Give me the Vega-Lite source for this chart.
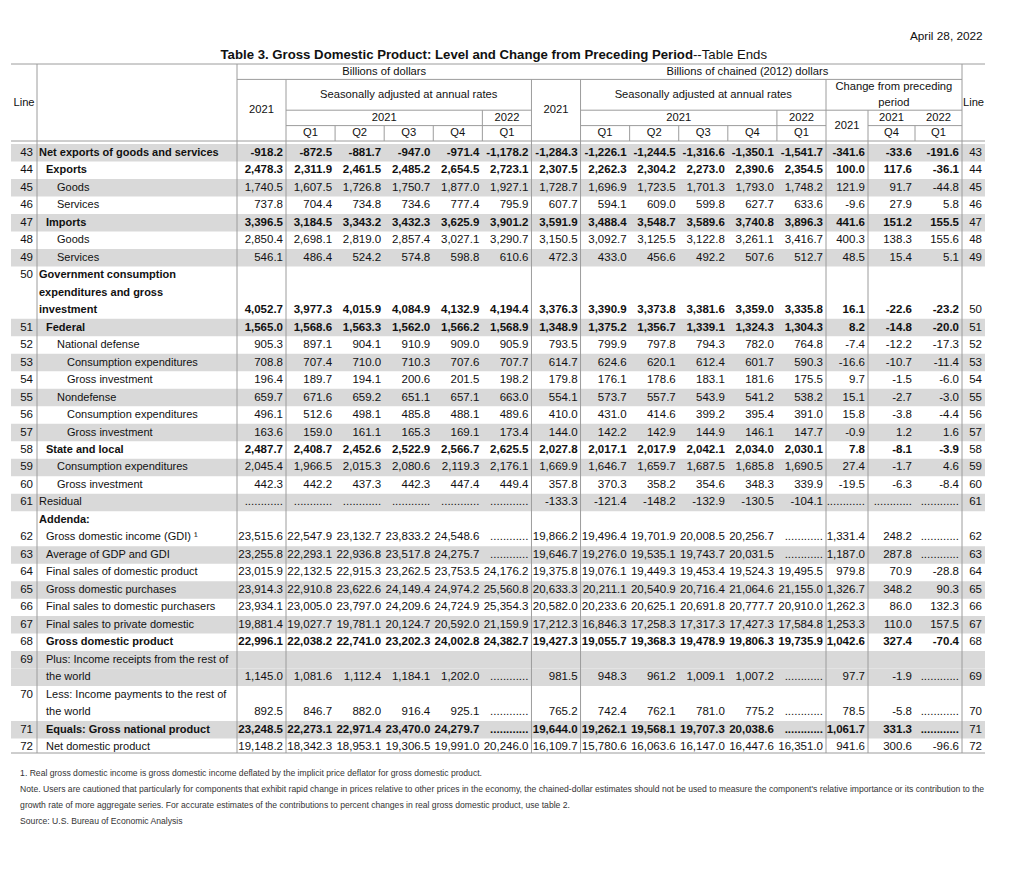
{
"$schema": "https://vega.github.io/schema/vega-lite/v6.json",
"width": 1024, "height": 873, "padding": 0, "autosize": {"type": "none"},
"background": "#ffffff",
"config": {"view": {"stroke": null}, "axis": {"disable": true}, "text": {"font": "Liberation Sans", "fontSize": 11.5, "color": "#111111"}},
"datasets": {
"labels": [
{"r":"43","ln":"43","rn":"43","t":"Net exports of goods and services","lv":0},
{"r":"44","ln":"44","rn":"44","t":"Exports","lv":1},
{"r":"45","ln":"45","rn":"45","t":"Goods","lv":2},
{"r":"46","ln":"46","rn":"46","t":"Services","lv":2},
{"r":"47","ln":"47","rn":"47","t":"Imports","lv":1},
{"r":"48","ln":"48","rn":"48","t":"Goods","lv":2},
{"r":"49","ln":"49","rn":"49","t":"Services","lv":2},
{"r":"50a","ln":"50","t":"Government consumption","lv":0},
{"r":"50b","t":"expenditures and gross","lv":0},
{"r":"50","rn":"50","t":"investment","lv":0},
{"r":"51","ln":"51","rn":"51","t":"Federal","lv":1},
{"r":"52","ln":"52","rn":"52","t":"National defense","lv":2},
{"r":"53","ln":"53","rn":"53","t":"Consumption expenditures","lv":3},
{"r":"54","ln":"54","rn":"54","t":"Gross investment","lv":3},
{"r":"55","ln":"55","rn":"55","t":"Nondefense","lv":2},
{"r":"56","ln":"56","rn":"56","t":"Consumption expenditures","lv":3},
{"r":"57","ln":"57","rn":"57","t":"Gross investment","lv":3},
{"r":"58","ln":"58","rn":"58","t":"State and local","lv":1},
{"r":"59","ln":"59","rn":"59","t":"Consumption expenditures","lv":2},
{"r":"60","ln":"60","rn":"60","t":"Gross investment","lv":2},
{"r":"61","ln":"61","rn":"61","t":"Residual","lv":0},
{"r":"Add","t":"Addenda:","lv":0},
{"r":"62","ln":"62","rn":"62","t":"Gross domestic income (GDI) ¹","lv":1},
{"r":"63","ln":"63","rn":"63","t":"Average of GDP and GDI","lv":1},
{"r":"64","ln":"64","rn":"64","t":"Final sales of domestic product","lv":1},
{"r":"65","ln":"65","rn":"65","t":"Gross domestic purchases","lv":1},
{"r":"66","ln":"66","rn":"66","t":"Final sales to domestic purchasers","lv":1},
{"r":"67","ln":"67","rn":"67","t":"Final sales to private domestic","lv":1},
{"r":"68","ln":"68","rn":"68","t":"Gross domestic product","lv":1},
{"r":"69a","ln":"69","t":"Plus: Income receipts from the rest of","lv":1},
{"r":"69","rn":"69","t":"\u00a0\u00a0the world","lv":1},
{"r":"70a","ln":"70","t":"Less: Income payments to the rest of","lv":1},
{"r":"70","rn":"70","t":"\u00a0\u00a0the world","lv":1},
{"r":"71","ln":"71","rn":"71","t":"Equals: Gross national product","lv":1},
{"r":"72","ln":"72","rn":"72","t":"Net domestic product","lv":1}
],
"cells": [
{"r":"43","2":"-918.2","3":"-872.5","4":"-881.7","5":"-947.0","6":"-971.4","7":"-1,178.2","8":"-1,284.3","9":"-1,226.1","10":"-1,244.5","11":"-1,316.6","12":"-1,350.1","13":"-1,541.7","14":"-341.6","15":"-33.6","16":"-191.6"},
{"r":"44","2":"2,478.3","3":"2,311.9","4":"2,461.5","5":"2,485.2","6":"2,654.5","7":"2,723.1","8":"2,307.5","9":"2,262.3","10":"2,304.2","11":"2,273.0","12":"2,390.6","13":"2,354.5","14":"100.0","15":"117.6","16":"-36.1"},
{"r":"45","2":"1,740.5","3":"1,607.5","4":"1,726.8","5":"1,750.7","6":"1,877.0","7":"1,927.1","8":"1,728.7","9":"1,696.9","10":"1,723.5","11":"1,701.3","12":"1,793.0","13":"1,748.2","14":"121.9","15":"91.7","16":"-44.8"},
{"r":"46","2":"737.8","3":"704.4","4":"734.8","5":"734.6","6":"777.4","7":"795.9","8":"607.7","9":"594.1","10":"609.0","11":"599.8","12":"627.7","13":"633.6","14":"-9.6","15":"27.9","16":"5.8"},
{"r":"47","2":"3,396.5","3":"3,184.5","4":"3,343.2","5":"3,432.3","6":"3,625.9","7":"3,901.2","8":"3,591.9","9":"3,488.4","10":"3,548.7","11":"3,589.6","12":"3,740.8","13":"3,896.3","14":"441.6","15":"151.2","16":"155.5"},
{"r":"48","2":"2,850.4","3":"2,698.1","4":"2,819.0","5":"2,857.4","6":"3,027.1","7":"3,290.7","8":"3,150.5","9":"3,092.7","10":"3,125.5","11":"3,122.8","12":"3,261.1","13":"3,416.7","14":"400.3","15":"138.3","16":"155.6"},
{"r":"49","2":"546.1","3":"486.4","4":"524.2","5":"574.8","6":"598.8","7":"610.6","8":"472.3","9":"433.0","10":"456.6","11":"492.2","12":"507.6","13":"512.7","14":"48.5","15":"15.4","16":"5.1"},
{"r":"50","2":"4,052.7","3":"3,977.3","4":"4,015.9","5":"4,084.9","6":"4,132.9","7":"4,194.4","8":"3,376.3","9":"3,390.9","10":"3,373.8","11":"3,381.6","12":"3,359.0","13":"3,335.8","14":"16.1","15":"-22.6","16":"-23.2"},
{"r":"51","2":"1,565.0","3":"1,568.6","4":"1,563.3","5":"1,562.0","6":"1,566.2","7":"1,568.9","8":"1,348.9","9":"1,375.2","10":"1,356.7","11":"1,339.1","12":"1,324.3","13":"1,304.3","14":"8.2","15":"-14.8","16":"-20.0"},
{"r":"52","2":"905.3","3":"897.1","4":"904.1","5":"910.9","6":"909.0","7":"905.9","8":"793.5","9":"799.9","10":"797.8","11":"794.3","12":"782.0","13":"764.8","14":"-7.4","15":"-12.2","16":"-17.3"},
{"r":"53","2":"708.8","3":"707.4","4":"710.0","5":"710.3","6":"707.6","7":"707.7","8":"614.7","9":"624.6","10":"620.1","11":"612.4","12":"601.7","13":"590.3","14":"-16.6","15":"-10.7","16":"-11.4"},
{"r":"54","2":"196.4","3":"189.7","4":"194.1","5":"200.6","6":"201.5","7":"198.2","8":"179.8","9":"176.1","10":"178.6","11":"183.1","12":"181.6","13":"175.5","14":"9.7","15":"-1.5","16":"-6.0"},
{"r":"55","2":"659.7","3":"671.6","4":"659.2","5":"651.1","6":"657.1","7":"663.0","8":"554.1","9":"573.7","10":"557.7","11":"543.9","12":"541.2","13":"538.2","14":"15.1","15":"-2.7","16":"-3.0"},
{"r":"56","2":"496.1","3":"512.6","4":"498.1","5":"485.8","6":"488.1","7":"489.6","8":"410.0","9":"431.0","10":"414.6","11":"399.2","12":"395.4","13":"391.0","14":"15.8","15":"-3.8","16":"-4.4"},
{"r":"57","2":"163.6","3":"159.0","4":"161.1","5":"165.3","6":"169.1","7":"173.4","8":"144.0","9":"142.2","10":"142.9","11":"144.9","12":"146.1","13":"147.7","14":"-0.9","15":"1.2","16":"1.6"},
{"r":"58","2":"2,487.7","3":"2,408.7","4":"2,452.6","5":"2,522.9","6":"2,566.7","7":"2,625.5","8":"2,027.8","9":"2,017.1","10":"2,017.9","11":"2,042.1","12":"2,034.0","13":"2,030.1","14":"7.8","15":"-8.1","16":"-3.9"},
{"r":"59","2":"2,045.4","3":"1,966.5","4":"2,015.3","5":"2,080.6","6":"2,119.3","7":"2,176.1","8":"1,669.9","9":"1,646.7","10":"1,659.7","11":"1,687.5","12":"1,685.8","13":"1,690.5","14":"27.4","15":"-1.7","16":"4.6"},
{"r":"60","2":"442.3","3":"442.2","4":"437.3","5":"442.3","6":"447.4","7":"449.4","8":"357.8","9":"370.3","10":"358.2","11":"354.6","12":"348.3","13":"339.9","14":"-19.5","15":"-6.3","16":"-8.4"},
{"r":"61","2":"............","3":"............","4":"............","5":"............","6":"............","7":"............","8":"-133.3","9":"-121.4","10":"-148.2","11":"-132.9","12":"-130.5","13":"-104.1","14":"............","15":"............","16":"............"},
{"r":"62","2":"23,515.6","3":"22,547.9","4":"23,132.7","5":"23,833.2","6":"24,548.6","7":"............","8":"19,866.2","9":"19,496.4","10":"19,701.9","11":"20,008.5","12":"20,256.7","13":"............","14":"1,331.4","15":"248.2","16":"............"},
{"r":"63","2":"23,255.8","3":"22,293.1","4":"22,936.8","5":"23,517.8","6":"24,275.7","7":"............","8":"19,646.7","9":"19,276.0","10":"19,535.1","11":"19,743.7","12":"20,031.5","13":"............","14":"1,187.0","15":"287.8","16":"............"},
{"r":"64","2":"23,015.9","3":"22,132.5","4":"22,915.3","5":"23,262.5","6":"23,753.5","7":"24,176.2","8":"19,375.8","9":"19,076.1","10":"19,449.3","11":"19,453.4","12":"19,524.3","13":"19,495.5","14":"979.8","15":"70.9","16":"-28.8"},
{"r":"65","2":"23,914.3","3":"22,910.8","4":"23,622.6","5":"24,149.4","6":"24,974.2","7":"25,560.8","8":"20,633.3","9":"20,211.1","10":"20,540.9","11":"20,716.4","12":"21,064.6","13":"21,155.0","14":"1,326.7","15":"348.2","16":"90.3"},
{"r":"66","2":"23,934.1","3":"23,005.0","4":"23,797.0","5":"24,209.6","6":"24,724.9","7":"25,354.3","8":"20,582.0","9":"20,233.6","10":"20,625.1","11":"20,691.8","12":"20,777.7","13":"20,910.0","14":"1,262.3","15":"86.0","16":"132.3"},
{"r":"67","2":"19,881.4","3":"19,027.7","4":"19,781.1","5":"20,124.7","6":"20,592.0","7":"21,159.9","8":"17,212.3","9":"16,846.3","10":"17,258.3","11":"17,317.3","12":"17,427.3","13":"17,584.8","14":"1,253.3","15":"110.0","16":"157.5"},
{"r":"68","2":"22,996.1","3":"22,038.2","4":"22,741.0","5":"23,202.3","6":"24,002.8","7":"24,382.7","8":"19,427.3","9":"19,055.7","10":"19,368.3","11":"19,478.9","12":"19,806.3","13":"19,735.9","14":"1,042.6","15":"327.4","16":"-70.4"},
{"r":"69","2":"1,145.0","3":"1,081.6","4":"1,112.4","5":"1,184.1","6":"1,202.0","7":"............","8":"981.5","9":"948.3","10":"961.2","11":"1,009.1","12":"1,007.2","13":"............","14":"97.7","15":"-1.9","16":"............"},
{"r":"70","2":"892.5","3":"846.7","4":"882.0","5":"916.4","6":"925.1","7":"............","8":"765.2","9":"742.4","10":"762.1","11":"781.0","12":"775.2","13":"............","14":"78.5","15":"-5.8","16":"............"},
{"r":"71","2":"23,248.5","3":"22,273.1","4":"22,971.4","5":"23,470.0","6":"24,279.7","7":"............","8":"19,644.0","9":"19,262.1","10":"19,568.1","11":"19,707.3","12":"20,038.6","13":"............","14":"1,061.7","15":"331.3","16":"............"},
{"r":"72","2":"19,148.2","3":"18,342.3","4":"18,953.1","5":"19,306.5","6":"19,991.0","7":"20,246.0","8":"16,109.7","9":"15,780.6","10":"16,063.6","11":"16,147.0","12":"16,447.6","13":"16,351.0","14":"941.6","15":"300.6","16":"-96.6"}
],
"head": [
{"t":"Line","c":-0.5,"h":2.5},
{"t":"Billions of dollars","c":4,"h":0.5},
{"t":"Billions of chained (2012) dollars","c":11.4,"h":0.5},
{"t":"2021","c":1.5,"h":3},
{"t":"Seasonally adjusted at annual rates","c":4.5,"h":2},
{"t":"2021","c":4,"h":3.5},
{"t":"2022","c":6.5,"h":3.5},
{"t":"Q1","c":2.5,"h":4.5},
{"t":"Q2","c":3.5,"h":4.5},
{"t":"Q3","c":4.5,"h":4.5},
{"t":"Q4","c":5.5,"h":4.5},
{"t":"Q1","c":6.5,"h":4.5},
{"t":"2021","c":7.5,"h":3},
{"t":"Seasonally adjusted at annual rates","c":10.5,"h":2},
{"t":"2021","c":10,"h":3.5},
{"t":"2022","c":12.5,"h":3.5},
{"t":"Q1","c":8.5,"h":4.5},
{"t":"Q2","c":9.5,"h":4.5},
{"t":"Q3","c":10.5,"h":4.5},
{"t":"Q4","c":11.5,"h":4.5},
{"t":"Q1","c":12.5,"h":4.5},
{"t":"Change from preceding","c":14.55,"h":1.5},
{"t":"period","c":14.55,"h":2.5},
{"t":"2021","c":13.5,"h":4},
{"t":"2021","c":14.5,"h":3.5},
{"t":"2022","c":15.5,"h":3.5},
{"t":"Q4","c":14.5,"h":4.5},
{"t":"Q1","c":15.5,"h":4.5},
{"t":"Line","c":16.5,"h":2.5}
],
"rules": [
{"x":-1,"x2":17,"y":0,"y2":0},
{"x":1,"x2":16,"y":1,"y2":1},
{"x":2,"x2":7,"y":3,"y2":3},
{"x":8,"x2":16,"y":3,"y2":3},
{"x":2,"x2":7,"y":4,"y2":4},
{"x":8,"x2":13,"y":4,"y2":4},
{"x":14,"x2":16,"y":4,"y2":4},
{"x":-1,"x2":17,"y":5,"y2":5},
{"x":-1,"x2":17,"y":40,"y2":40},
{"x":0,"x2":0,"y":0,"y2":40},
{"x":1,"x2":1,"y":0,"y2":40},
{"x":2,"x2":2,"y":1,"y2":40},
{"x":3,"x2":3,"y":4,"y2":5},
{"x":4,"x2":4,"y":4,"y2":5},
{"x":5,"x2":5,"y":4,"y2":5},
{"x":6,"x2":6,"y":3,"y2":5},
{"x":7,"x2":7,"y":1,"y2":40},
{"x":8,"x2":8,"y":1,"y2":40},
{"x":9,"x2":9,"y":4,"y2":5},
{"x":10,"x2":10,"y":4,"y2":5},
{"x":11,"x2":11,"y":4,"y2":5},
{"x":12,"x2":12,"y":3,"y2":5},
{"x":13,"x2":13,"y":1,"y2":40},
{"x":14,"x2":14,"y":3,"y2":40},
{"x":15,"x2":15,"y":4,"y2":5},
{"x":16,"x2":16,"y":0,"y2":40}
],
"notes": [
{"n":1,"t":"1. Real gross domestic income is gross domestic income deflated by the implicit price deflator for gross domestic product."},
{"n":2,"t":"Note. Users are cautioned that particularly for components that exhibit rapid change in prices relative to other prices in the economy, the chained-dollar estimates should not be used to measure the component's relative importance or its contribution to the"},
{"n":3,"t":"growth rate of more aggregate series. For accurate estimates of the contributions to percent changes in real gross domestic product, use table 2."},
{"n":4,"t":"Source: U.S. Bureau of Economic Analysis"}
]
},
"layer": [
{"data":{"name":"labels"},
 "transform":[{"filter":{"field":"r","oneOf":["43","45","47","49","51","53","55","57","59","61","63","65","67","69a","69","71"]}}],
 "mark":{"type":"rect","color":"#d9d9d9"},
 "encoding":{
  "x":{"datum":-1,"type":"quantitative","scale":{"domain":[-1,0,1,2,13,14,16,17],"range":[11,37,237,286,826,868,962,985],"nice":false,"zero":false},"axis":null},
  "x2":{"datum":17},
  "y":{"field":"r","type":"nominal","scale":{"type":"band","domain":["43","44","45","46","47","48","49","50a","50b","50","51","52","53","54","55","56","57","58","59","60","61","Add","62","63","64","65","66","67","68","69a","69","70a","70","71","72"],"range":[144,756],"paddingInner":0,"paddingOuter":0},"axis":null}}},
{"data":{"name":"rules"},
 "mark":{"type":"rule","color":"#9c9c9c","strokeWidth":1},
 "encoding":{
  "x":{"field":"x","type":"quantitative","scale":{"domain":[-1,0,1,2,13,14,16,17],"range":[11,37,237,286,826,868,962,985],"nice":false,"zero":false},"axis":null},
  "x2":{"field":"x2"},
  "y":{"field":"y","type":"quantitative","scale":{"domain":[0,5,40],"range":[64,141,753],"nice":false,"zero":false},"axis":null},
  "y2":{"field":"y2"}}},
{"data":{"name":"head"},
 "mark":{"type":"text","align":"center","baseline":"middle","fontSize":11.2},
 "encoding":{
  "x":{"field":"c","type":"quantitative","scale":{"domain":[-1,0,1,2,13,14,16,17],"range":[11,37,237,286,826,868,962,985],"nice":false,"zero":false},"axis":null},
  "y":{"field":"h","type":"quantitative","scale":{"domain":[0,5,40],"range":[64,141,753],"nice":false,"zero":false},"axis":null},
  "text":{"field":"t"}}},
{"data":{"values":[{"t":"Table 3. Gross Domestic Product: Level and Change from Preceding Period"}]},
 "mark":{"type":"text","align":"right","baseline":"middle","fontSize":13.2,"fontWeight":"bold"},
 "encoding":{
  "x":{"datum":10.29,"type":"quantitative","scale":{"domain":[-1,0,1,2,13,14,16,17],"range":[11,37,237,286,826,868,962,985],"nice":false,"zero":false},"axis":null},
  "y":{"datum":-0.6,"type":"quantitative","scale":{"domain":[0,5,40],"range":[64,141,753],"nice":false,"zero":false},"axis":null},
  "text":{"field":"t"}}},
{"data":{"values":[{"t":"--Table Ends"}]},
 "mark":{"type":"text","align":"left","baseline":"middle","fontSize":13.2},
 "encoding":{
  "x":{"datum":10.29,"type":"quantitative","scale":{"domain":[-1,0,1,2,13,14,16,17],"range":[11,37,237,286,826,868,962,985],"nice":false,"zero":false},"axis":null},
  "y":{"datum":-0.6,"type":"quantitative","scale":{"domain":[0,5,40],"range":[64,141,753],"nice":false,"zero":false},"axis":null},
  "text":{"field":"t"}}},
{"data":{"values":[{"t":"April 28, 2022"}]},
 "mark":{"type":"text","align":"right","baseline":"middle","fontSize":11.8},
 "encoding":{
  "x":{"datum":16.9,"type":"quantitative","scale":{"domain":[-1,0,1,2,13,14,16,17],"range":[11,37,237,286,826,868,962,985],"nice":false,"zero":false},"axis":null},
  "y":{"datum":-1.8,"type":"quantitative","scale":{"domain":[0,5,40],"range":[64,141,753],"nice":false,"zero":false},"axis":null},
  "text":{"field":"t"}}},
{"data":{"name":"labels"},
 "transform":[{"filter":{"not":{"field":"r","oneOf":["43","44","47","50a","50b","50","51","58","Add","68","71"]}}}],
 "mark":{"type":"text","align":"left","baseline":"middle","fontSize":11},
 "encoding":{
  "x":{"field":"lv","type":"quantitative","scale":{"domain":[0,1,2,3],"range":[39,46,57,67],"nice":false,"zero":false},"axis":null},
  "y":{"field":"r","type":"nominal","scale":{"type":"band","domain":["43","44","45","46","47","48","49","50a","50b","50","51","52","53","54","55","56","57","58","59","60","61","Add","62","63","64","65","66","67","68","69a","69","70a","70","71","72"],"range":[144,756],"paddingInner":0,"paddingOuter":0},"axis":null},
  "text":{"field":"t"}}},
{"data":{"name":"labels"},
 "transform":[{"filter":{"field":"r","oneOf":["43","44","47","50a","50b","50","51","58","Add","68","71"]}}],
 "mark":{"type":"text","align":"left","baseline":"middle","fontSize":11,"fontWeight":"bold"},
 "encoding":{
  "x":{"field":"lv","type":"quantitative","scale":{"domain":[0,1,2,3],"range":[39,46,57,67],"nice":false,"zero":false},"axis":null},
  "y":{"field":"r","type":"nominal","scale":{"type":"band","domain":["43","44","45","46","47","48","49","50a","50b","50","51","52","53","54","55","56","57","58","59","60","61","Add","62","63","64","65","66","67","68","69a","69","70a","70","71","72"],"range":[144,756],"paddingInner":0,"paddingOuter":0},"axis":null},
  "text":{"field":"t"}}},
{"data":{"name":"labels"},
 "transform":[{"filter":{"field":"ln","valid":true}}],
 "mark":{"type":"text","align":"right","baseline":"middle","dx":-4},
 "encoding":{
  "x":{"datum":0,"type":"quantitative","scale":{"domain":[-1,0,1,2,13,14,16,17],"range":[11,37,237,286,826,868,962,985],"nice":false,"zero":false},"axis":null},
  "y":{"field":"r","type":"nominal","scale":{"type":"band","domain":["43","44","45","46","47","48","49","50a","50b","50","51","52","53","54","55","56","57","58","59","60","61","Add","62","63","64","65","66","67","68","69a","69","70a","70","71","72"],"range":[144,756],"paddingInner":0,"paddingOuter":0},"axis":null},
  "text":{"field":"ln"}}},
{"data":{"name":"labels"},
 "transform":[{"filter":{"field":"rn","valid":true}}],
 "mark":{"type":"text","align":"right","baseline":"middle","dx":-3},
 "encoding":{
  "x":{"datum":17,"type":"quantitative","scale":{"domain":[-1,0,1,2,13,14,16,17],"range":[11,37,237,286,826,868,962,985],"nice":false,"zero":false},"axis":null},
  "y":{"field":"r","type":"nominal","scale":{"type":"band","domain":["43","44","45","46","47","48","49","50a","50b","50","51","52","53","54","55","56","57","58","59","60","61","Add","62","63","64","65","66","67","68","69a","69","70a","70","71","72"],"range":[144,756],"paddingInner":0,"paddingOuter":0},"axis":null},
  "text":{"field":"rn"}}},
{"data":{"name":"cells"},
 "transform":[{"filter":{"not":{"field":"r","oneOf":["43","44","47","50","51","58","68","71"]}}},{"fold":["2","3","4","5","6","7","8","9","10","11","12","13","14","15","16"],"as":["c","v"]}],
 "mark":{"type":"text","align":"right","baseline":"middle","dx":-3},
 "encoding":{
  "x":{"field":"c","type":"quantitative","scale":{"domain":[-1,0,1,2,13,14,16,17],"range":[11,37,237,286,826,868,962,985],"nice":false,"zero":false},"axis":null},
  "y":{"field":"r","type":"nominal","scale":{"type":"band","domain":["43","44","45","46","47","48","49","50a","50b","50","51","52","53","54","55","56","57","58","59","60","61","Add","62","63","64","65","66","67","68","69a","69","70a","70","71","72"],"range":[144,756],"paddingInner":0,"paddingOuter":0},"axis":null},
  "text":{"field":"v"}}},
{"data":{"name":"cells"},
 "transform":[{"filter":{"field":"r","oneOf":["43","44","47","50","51","58","68","71"]}},{"fold":["2","3","4","5","6","7","8","9","10","11","12","13","14","15","16"],"as":["c","v"]}],
 "mark":{"type":"text","align":"right","baseline":"middle","dx":-3,"fontWeight":"bold"},
 "encoding":{
  "x":{"field":"c","type":"quantitative","scale":{"domain":[-1,0,1,2,13,14,16,17],"range":[11,37,237,286,826,868,962,985],"nice":false,"zero":false},"axis":null},
  "y":{"field":"r","type":"nominal","scale":{"type":"band","domain":["43","44","45","46","47","48","49","50a","50b","50","51","52","53","54","55","56","57","58","59","60","61","Add","62","63","64","65","66","67","68","69a","69","70a","70","71","72"],"range":[144,756],"paddingInner":0,"paddingOuter":0},"axis":null},
  "text":{"field":"v"}}},
{"data":{"name":"notes"},
 "mark":{"type":"text","align":"left","baseline":"middle","fontSize":8.6,"color":"#333333"},
 "encoding":{
  "x":{"datum":-0.65,"type":"quantitative","scale":{"domain":[-1,0,1,2,13,14,16,17],"range":[11,37,237,286,826,868,962,985],"nice":false,"zero":false},"axis":null},
  "y":{"field":"n","type":"quantitative","scale":{"domain":[1,4],"range":[773,821],"nice":false,"zero":false},"axis":null},
  "text":{"field":"t"}}}
],
"resolve":{"scale":{"x":"independent","y":"independent"}}
}
